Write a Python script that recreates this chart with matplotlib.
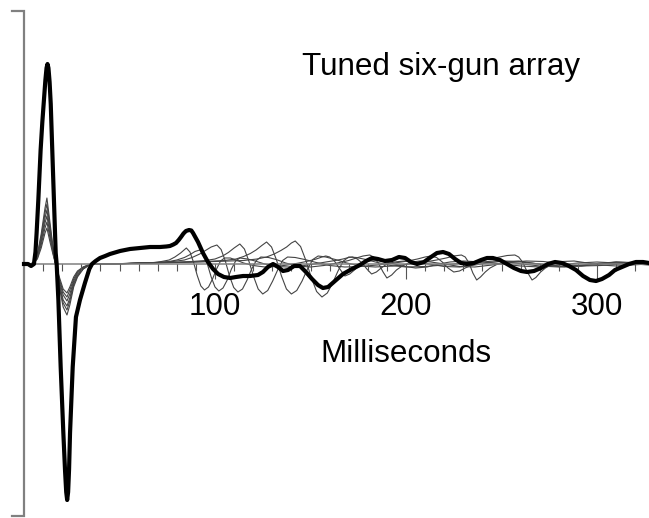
import matplotlib
matplotlib.use('Agg')
import numpy as np
import matplotlib.pyplot as plt

plt.rcParams['font.family'] = ['Liberation Sans', 'DejaVu Sans']

# Array signature (thick line): time in ms, amplitude in arbitrary units
sum_t = [0, 2.1, 3.7, 5.2, 6.0, 6.6, 7.5, 8.7, 9.6, 10.5, 11.2, 11.8, 12.3, 12.8, 13.4,
         14.0, 14.8, 15.7, 16.6, 17.1, 18.0, 19.2, 20.6, 21.5, 22.1, 22.6, 23.1, 23.6,
         24.1, 25.5, 27.2, 29.3, 31.9, 34.2, 35.6, 37.5, 39.8, 42.5, 45.0, 50.3, 55.5,
         60.7, 66.0, 71.2, 74.5, 76.4, 78.2, 79.6, 81.0, 82.2, 83.5, 84.8, 86.4, 87.6,
         88.5, 89.8, 91.1, 92.4, 93.7, 96.3, 99.0, 101.6, 104.7, 107.9, 111.0, 114.7,
         118.3, 122.5, 125.1, 127.7, 130.4, 133.0, 135.6, 138.2, 141.4, 144.5, 147.6,
         150.8, 153.9, 156.5, 159.2, 162.8, 167.0, 171.7, 175.9, 179.1, 182.2, 185.3,
         189.0, 192.7, 196.3, 199.5, 202.6, 205.8, 209.4, 213.1, 216.2, 219.4, 222.5,
         225.7, 228.8, 231.9, 235.6, 239.3, 242.4, 245.5, 249.2, 252.9, 256.5, 260.2,
         263.4, 267.0, 270.7, 274.3, 278.0, 281.7, 285.3, 289.0, 292.7, 296.3, 299.5,
         302.6, 306.3, 309.4, 313.1, 316.8, 320.4, 324.1, 327.2]
sum_a = [0, 0, -2, 0, 12, 31, 64, 114, 142, 166, 184, 196, 200, 196, 182,
         160, 114, 64, 11, 0, -36, -103, -169, -207, -228, -236, -228, -205,
         -169, -103, -53, -36, -19, -5, 0, 3, 6, 8, 10, 13, 15,
         16, 17, 17, 17.5, 18, 19.5, 21, 24, 27, 30.5, 33, 34, 33.5,
         31, 26.5, 22, 16.5, 11, 2, -5, -10, -13, -14, -13, -12,
         -12, -11, -8, -3, 0, -3, -7, -6, -2, -2, -8,
         -15, -21, -24, -23, -17, -10, -5, -1, 3, 6, 5,
         3, 4, 7, 6, 2, 0, 2, 7, 11, 12, 10,
         5, 1, 0, 1, 4, 6, 6, 4, 0, -4, -7,
         -8, -7, -4, 0, 2, 1, -2, -6, -12, -16, -17,
         -15, -11, -6, -3, 0, 2, 2, 1]

# Individual guns (thin lines): primary pulse section
early_t = [0, 3, 5, 7, 9, 11, 12, 13.5, 15, 16.5, 18.5, 20.5, 22.5, 24, 26, 28, 31, 35]
gun1_early = [0, 0, 1, 5, 16, 31, 36, 23, 11, 0, -13, -25, -29, -23, -13, -7, -3, 0]
gun2_early = [0, 0, 1, 6, 19, 36, 42, 27, 13, 0, -15, -28, -33, -26, -15, -8, -3, 0]
gun3_early = [0, 0, 1, 7, 22, 41, 48, 31, 14, 0, -17, -31, -37, -30, -17, -9, -4, 0]
gun4_early = [0, 0, 1, 8, 24, 46, 54, 35, 16, 0, -19, -36, -42, -34, -19, -11, -4, 0]
gun5_early = [0, 0, 1, 9, 27, 51, 60, 39, 18, 0, -21, -39, -46, -37, -21, -12, -5, 0]
gun6_early = [0, 0, 1, 10, 30, 56, 66, 43, 20, 0, -23, -43, -51, -41, -23, -13, -5, 0]

# bubble section of each gun
gun1_t = [45, 55, 62, 68, 72, 76, 79, 82, 85, 86.9, 88.8, 90.7, 92.6, 94.5, 96.6, 98.7,
          100.8, 102.9, 105, 108, 111, 115, 120, 126, 132, 138, 144, 149, 153, 156,
          158, 160, 162.5, 165, 168, 170.5, 173, 176, 179, 183, 187, 192, 198, 205,
          211, 217, 223, 230, 240, 250, 260, 270, 280, 290, 300, 310, 320, 327]
gun1_a = [0, 0.5, 1, 1.5, 2.5, 4, 7, 11, 16, 12, 1.5, -11.5, -22, -26, -23, -15,
          -5, 3, 6, 6, 4, 1, -1.5, -3, -2.5, -1, 1, 3, 5, 7,
          8, 7, 3, -4, -12, -10, -6, -1, 2, 4, 3, 1, -2, -4,
          -3, 0, 2, 3, 2, 0, -2, -3, -1, 1, 2, 1, 0, 0]
gun2_t = [45, 55, 62, 70, 76, 80, 84, 87, 89.5, 92, 94, 96, 98, 100, 102, 104.2,
          106.4, 108.6, 110.8, 113, 117, 121, 126, 132, 138, 145, 152, 158, 163, 167,
          170, 172, 174.5, 177, 179.5, 182, 184.5, 187, 190, 194, 199, 205, 212, 220,
          228, 236, 244, 252, 260, 270, 280, 290, 300, 310, 320, 327]
gun2_a = [0, 0.5, 1, 1.5, 2.5, 4, 6.5, 9.5, 12.5, 14, 10, 0, -13, -23, -27, -24,
          -16, -5, 3, 6, 5, 3, 0, -2.5, -3, -2, 0, 2, 3.5, 5,
          6.5, 7, 5, 1, -5, -10, -8, -4, 0, 2, 3, 2, 0, -2.5,
          -3, -1, 1.5, 3, 2, 0, -2, -2, 0, 1, 1, 1]
gun3_t = [45, 55, 62, 70, 78, 84, 88, 92, 95, 98, 101, 103.2, 105.4, 107.6, 109.8,
          112, 114.4, 116.8, 119.2, 121.6, 124, 128, 132, 137, 143, 150, 157, 164,
          170, 174, 177.5, 181, 183, 185.5, 188, 190, 192.5, 195, 198, 202, 207, 213,
          220, 228, 236, 245, 254, 263, 272, 282, 292, 302, 312, 320, 327]
gun3_a = [0, 0.5, 1, 1.5, 2.5, 4, 6.5, 10, 13.5, 17, 19, 14.5, 3, -12, -23.5,
          -28, -25, -16, -5, 3.5, 7, 6.5, 4.5, 1, -2, -3, -1.5, 1,
          3.5, 6, 8, 9, 7, 1, -8, -14, -11, -6, -2, 1.5, 3, 2,
          0, -2.5, -3, -1, 1.5, 3, 2.5, 0, -2, -1.5, 0, 0, -1]
gun4_t = [45, 55, 65, 75, 88, 95, 100, 104, 107, 110, 113, 115.4, 117.8, 120.2, 122.6,
          125, 127.6, 130.2, 132.8, 135.4, 138, 142, 147, 153, 160, 168, 176, 185,
          194, 201, 206, 210, 213, 216, 219, 222, 225, 228, 231, 235, 240, 246, 253,
          261, 270, 280, 290, 300, 310, 320, 327]
gun4_a = [0, 0.5, 1, 1.5, 2.5, 3.5, 5, 8, 11.5, 16, 20, 15, 2.5, -12.5, -25,
          -30, -26.5, -17, -6, 3.5, 7, 6.5, 4.5, 1.5, -1.5, -3, -2.5, -1,
          1, 3, 5, 7, 8, 6.5, 2, -4, -8, -7, -4, -0.5, 2, 3, 2,
          0, -2, -3, -1.5, 0.5, 2, 1, 0]
gun5_t = [45, 60, 80, 95, 105, 111, 115, 118.5, 121.5, 124.5, 127, 129.6, 132.2, 134.8,
          137.4, 140, 142.8, 145.6, 148.4, 151.2, 154, 158, 163, 169, 176, 184, 193,
          202, 210, 216, 221, 225, 229, 231, 233, 235, 237, 239, 241.5, 244, 248, 253,
          259, 266, 274, 283, 292, 301, 310, 319, 327]
gun5_a = [0, 1, 1.5, 2.5, 3.5, 5, 7.5, 10.5, 14, 18.5, 22, 17, 4, -12,
          -25, -30, -26.5, -17, -5, 4.5, 8, 7, 4.5, 1, -2, -3, -2,
          0, 2, 4, 6, 8, 9, 7, 1, -9, -16, -13, -8, -4, 0, 2.5,
          3, 1, -1.5, -3, -2, 0, 2, 1.5, 1]
gun6_t = [45, 60, 80, 100, 115, 122, 127, 131, 134.5, 137.5, 140, 142, 144.8, 147.6,
          150.4, 153.2, 156, 158.8, 161.6, 164.4, 167.2, 170, 174, 179, 185, 192, 200,
          210, 220, 230, 238, 244, 249, 253, 257, 259, 261, 263.5, 266, 268, 270.5,
          273, 277, 282, 288, 295, 302, 310, 318, 327]
gun6_a = [0, 1, 1.5, 2.5, 3.5, 5, 7, 10, 13.5, 17, 21, 23, 17.5, 3.5,
          -13.5, -27.5, -33, -29, -19, -7, 3, 7, 6.5, 4.5, 1.5, -1.5, -3,
          -2.5, -1, 1, 3, 5, 7, 8.5, 9, 7, 2, -8, -16, -13.5, -8,
          -4, 0, 2.5, 3, 1, -1, -2, -1, 0]

tick_labels = ['100', '200', '300']

fig = plt.figure(figsize=(6.49, 5.18), dpi=100)
ax = fig.add_axes([0, 0, 1, 1])
ax.set_xlim(-24 / 1.91, 625 / 1.91)
ax.set_ylim(-254, 264)
ax.axis('off')

# thin gun signatures
guns = [(gun1_early, gun1_t, gun1_a), (gun2_early, gun2_t, gun2_a),
        (gun3_early, gun3_t, gun3_a), (gun4_early, gun4_t, gun4_a),
        (gun5_early, gun5_t, gun5_a), (gun6_early, gun6_t, gun6_a)]
for early, t, a in guns:
    ax.plot(early_t + t, early + a, color='#444444', lw=0.8, zorder=2)

# time axis with ticks
tmax = 625 / 1.91
ax.plot([0, tmax], [0, 0], color='#808080', lw=1.1, zorder=3)
minor = np.arange(10, 330, 10)
major = [100, 200, 300]
ax.vlines([m for m in minor if m not in major], -7, 0, color='#555555', lw=0.8, zorder=3)
ax.vlines(major, -15, 0, color='#555555', lw=0.8, zorder=3)
for pos, lab in zip(major, tick_labels):
    ax.text(pos, -51, lab, ha='center', va='baseline', fontsize=22.6)

# bracket on the left
ax.plot([-6.3, 0, 0, -6.3], [253, 253, -252, -252], color='#808080', lw=1.6,
        solid_joinstyle='miter', zorder=3)

# array signature
ax.plot(sum_t, sum_a, color='black', lw=3, solid_joinstyle='round', zorder=4)

ax.text(145.5, 189, 'Tuned six-gun array', ha='left', va='baseline', fontsize=22.6)
ax.text(200, -98, 'Milliseconds', ha='center', va='baseline', fontsize=22.6)

plt.savefig('out.png', dpi=100)
